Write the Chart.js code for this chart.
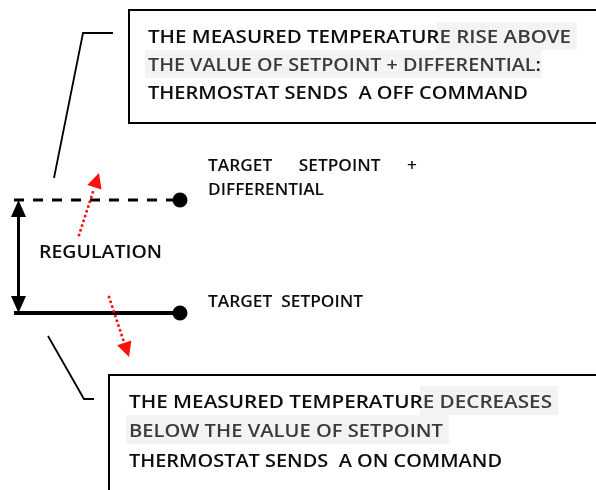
<!DOCTYPE html>
<html><head><meta charset="utf-8">
<script src="https://cdn.jsdelivr.net/npm/chart.js@4.4.1/dist/chart.umd.min.js"></script>
<style>html,body{margin:0;padding:0;background:#fff;}#wrap{width:596px;height:490px;}</style>
</head><body>
<div id="wrap"><canvas id="c" width="596" height="490"></canvas></div>
<script>
// ---- data ----
const levelLabels = ['TARGET SETPOINT + DIFFERENTIAL', 'TARGET  SETPOINT'];
const levelValues = [22, 20];           // setpoint + differential, setpoint (°C)
const lineSpan = [0, 1];                // horizontal extent of the level lines
const regulationLabel = 'REGULATION';
const offBoxLines = [
  [{t:'THE MEASURED TEMPERATUR', hl:false}, {t:'E RISE ABOVE', hl:true}],
  [{t:'THE VALUE OF SETPOINT + DIFFERENTIAL', hl:true}, {t:':', hl:false}],
  [{t:'THERMOSTAT SENDS  A OFF COMMAND', hl:false}]
];
const onBoxLines = [
  [{t:'THE MEASURED TEMPERATUR', hl:false}, {t:'E DECREASES', hl:true}],
  [{t:'BELOW THE VALUE OF SETPOINT', hl:true}],
  [{t:'THERMOSTAT SENDS  A ON COMMAND', hl:false}]
];

// ---- layout ----
const FONT = '"Open Sans", "Lato", sans-serif';
const W8 = '600';
const xMin = -0.08434, xMax = 3.50602;
const yMin = 16.8672, yMax = 25.5398;

function fitted(ctx, parts, x, yc, w, size, weight, hlRow) {
  ctx.font = weight + ' ' + size + 'px ' + FONT;
  const widths = parts.map(p => ctx.measureText(p.t).width);
  const total = widths.reduce((a,b)=>a+b,0);
  const s = w / total;
  const cap = ctx.measureText('H').actualBoundingBoxAscent;
  let off = 0, hs = null, he = null;
  parts.forEach((p,i)=>{ if(p.hl){ if(hs===null) hs=off; he=off+widths[i]; } off+=widths[i]; });
  if (hs !== null && hlRow) {
    ctx.fillStyle = '#f3f3f3';
    ctx.fillRect(x + hs*s - 3, hlRow[0], (he-hs)*s + 9, hlRow[1]-hlRow[0]);
  }
  ctx.save();
  ctx.translate(x, yc + cap/2);
  ctx.scale(s, 1);
  ctx.textBaseline = 'alphabetic';
  off = 0;
  parts.forEach((p,i)=>{
    ctx.fillStyle = p.hl ? '#3b3b3b' : '#0d0d0d';
    ctx.fillText(p.t, off, 0);
    off += widths[i];
  });
  ctx.restore();
  return s;
}

function redArrow(ctx, x1, y1, x2, y2) {
  const dx = x2-x1, dy = y2-y1, L = Math.hypot(dx,dy);
  const ux = dx/L, uy = dy/L, hl = 15, hw = 7.5;
  const bx = x2 - ux*hl, by = y2 - uy*hl;
  ctx.save();
  ctx.strokeStyle = '#ff1010';
  ctx.fillStyle = '#ff1010';
  ctx.lineWidth = 3;
  ctx.lineCap = 'round';
  ctx.setLineDash([0, 5]);
  ctx.beginPath(); ctx.moveTo(x1,y1); ctx.lineTo(bx - ux*2, by - uy*2); ctx.stroke();
  ctx.setLineDash([]);
  ctx.beginPath();
  ctx.moveTo(x2,y2);
  ctx.lineTo(bx - uy*hw, by + ux*hw);
  ctx.lineTo(bx + uy*hw, by - ux*hw);
  ctx.closePath(); ctx.fill();
  ctx.restore();
}

const diagram = {
  id: 'diagram',
  afterDatasetsDraw(chart) {
    const ctx = chart.ctx;
    const xs = chart.scales.x, ys = chart.scales.y;
    const yHi = ys.getPixelForValue(levelValues[0]);
    const yLo = ys.getPixelForValue(levelValues[1]);
    const xL = xs.getPixelForValue(lineSpan[0]);
    const xR = xs.getPixelForValue(lineSpan[1]);
    ctx.save();
    // vertical double arrow
    const ax = xL + 4.5;
    ctx.strokeStyle = '#000'; ctx.fillStyle = '#000'; ctx.lineWidth = 3;
    ctx.beginPath(); ctx.moveTo(ax, yHi + 14); ctx.lineTo(ax, yLo - 14); ctx.stroke();
    ctx.beginPath(); ctx.moveTo(ax, yHi); ctx.lineTo(ax - 7.5, yHi + 17); ctx.lineTo(ax + 7.5, yHi + 17); ctx.closePath(); ctx.fill();
    ctx.beginPath(); ctx.moveTo(ax, yLo); ctx.lineTo(ax - 7.5, yLo - 17); ctx.lineTo(ax + 7.5, yLo - 17); ctx.closePath(); ctx.fill();

    // leader lines
    ctx.lineWidth = 1.8;
    ctx.beginPath(); ctx.moveTo(113, 33); ctx.lineTo(83, 33); ctx.lineTo(54, 178); ctx.stroke();
    ctx.beginPath(); ctx.moveTo(48, 336); ctx.lineTo(84, 399); ctx.lineTo(94, 399); ctx.stroke();

    // boxes
    ctx.lineWidth = 2;
    ctx.strokeRect(129, 10, 500, 113);
    ctx.strokeRect(109, 375, 520, 200);

    // red dotted arrows
    redArrow(ctx, 79, 235, 99, 173);
    redArrow(ctx, 109, 297, 129, 357);

    // box texts
    const topC = [36, 64, 92], topW = [423, 393, 380];
    const topRows = [[22, 50], [50, 78]];
    offBoxLines.forEach((ln, i) => fitted(ctx, ln, 148, topC[i], topW[i], 18, W8, topRows[i]));
    const botC = [401, 430, 460], botW = [423, 314, 373];
    const botRows = [[386, 415], [415, 444]];
    onBoxLines.forEach((ln, i) => fitted(ctx, ln, 129, botC[i], botW[i], 18, W8, botRows[i]));

    // level labels
    const lx = xR + 28;
    const s = fitted(ctx, [{t:'DIFFERENTIAL', hl:false}], lx, yHi - 11, 116, 16, W8, null);
    ctx.font = W8 + ' 16px ' + FONT;
    const row = ['TARGET', 'SETPOINT', '+'];
    const ww = row.map(t => ctx.measureText(t).width * s);
    const gap = (417 - lx - ww.reduce((a,b)=>a+b,0)) / (row.length - 1);
    let cx = lx;
    row.forEach((t, i) => { fitted(ctx, [{t, hl:false}], cx, yHi - 35, ww[i], 16, W8, null); cx += ww[i] + gap; });
    fitted(ctx, [{t: levelLabels[1], hl:false}], lx, yLo - 12, 155, 16, W8, null);

    // regulation label
    fitted(ctx, [{t: regulationLabel, hl:false}], 39, (yHi + yLo)/2 - 4.5, 123, 18, W8, null);
    ctx.restore();
  }
};

new Chart(document.getElementById('c'), {
  type: 'scatter',
  data: {
    datasets: [
      { label: levelLabels[0],
        data: lineSpan.map(x => ({x, y: levelValues[0]})),
        showLine: true, borderColor: '#000', borderWidth: 3, borderDash: [10, 9],
        pointRadius: [0, 7.5], pointBackgroundColor: '#000', pointBorderWidth: 0 },
      { label: levelLabels[1],
        data: lineSpan.map(x => ({x, y: levelValues[1]})),
        showLine: true, borderColor: '#000', borderWidth: 4,
        pointRadius: [0, 7.5], pointBackgroundColor: '#000', pointBorderWidth: 0 }
    ]
  },
  options: {
    responsive: false, animation: false, events: [],
    layout: { padding: 0, autoPadding: false },
    plugins: { legend: { display: false }, tooltip: { enabled: false } },
    scales: {
      x: { type: 'linear', min: xMin, max: xMax, display: false },
      y: { type: 'linear', min: yMin, max: yMax, display: false }
    }
  },
  plugins: [diagram]
});
</script>
</body></html>
